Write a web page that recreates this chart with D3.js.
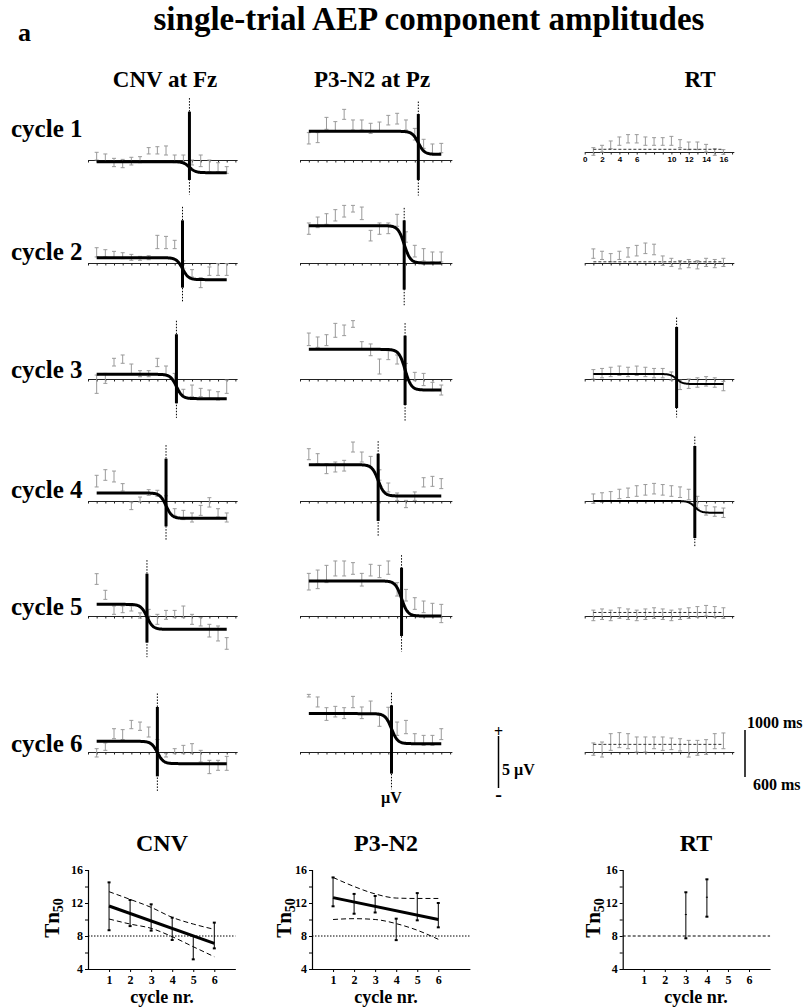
<!DOCTYPE html>
<html>
<head>
<meta charset="utf-8">
<script src="https://cdn.jsdelivr.net/npm/d3@7"></script>
<style>
  body { margin: 0; background: #fff; }
  text { font-family: "Liberation Serif", "Times New Roman", serif; font-weight: bold; fill: #000; }
</style>
</head>
<body>
<script>
// ---- data ----
const trials = d3.range(1, 17);          // single trials 1..16
const cycleNames = ["cycle 1", "cycle 2", "cycle 3", "cycle 4", "cycle 5", "cycle 6"];
const columnTitles = ["CNV at Fz", "P3-N2 at Pz", "RT"];
const rtTickLabels = [0, 2, 4, 6, 10, 12, 14, 16];

// CNV at Fz, µV (upper / lower end of each trial's error bar)
const cnvHi = [
  [0.74, 0.58, 0.16, 0.06, 0.26, 0.32, 1.19, 1.28, 1.35, 0.48, 0.48, 0, 0.48, 0, -0.26, -0.64],
  [1.47, 1.28, 1.12, 0.99, 0.83, 0.64, 0.7, 2.66, 2.56, 2.18, 0.2, -0.64, -1.41, -0.38, -0.06, -0.06],
  [0.38, 0.54, 1.99, 2.31, 1.44, 0.8, 0.8, 1.99, 1.25, 0.54, -0.99, -0.58, -0.9, -1.06, -1.22, -0.1],
  [2.47, 3.01, 2.88, 1.67, -0.1, 0.38, 1.09, 1.03, 0.5, -0.74, -0.9, -1.15, -0.42, 0.32, -0.74, -1.15],
  [4.07, 2.47, 0.96, 0.96, 0.96, 0.3, 0.64, 0.16, 0.54, 0.54, 0.96, 0.16, -0.16, -0.8, -0.96, -2.08],
  [0.32, 0.87, 2.24, 2.15, 3.04, 2.88, 2.4, 1.2, -0.16, 0.32, 0.64, 0.8, 0.16, -0.8, -0.8, -0.42]
];
const cnvLo = [
  [0, -0.16, -0.64, -0.74, -0.48, -0.26, 0.58, 0.58, 0.48, -0.26, -0.26, -0.48, -0.64, -1.12, -1.12, -1.28],
  [0.58, 0.58, 0.51, 0.42, 0.26, 0.26, 0.32, 1.38, 1.38, 1.38, -0.5, -1.35, -2.37, -1.19, -1.19, -1.19],
  [-1.38, -0.42, 1.25, 1.51, 0.48, 0.22, 0.22, 1.19, 0.38, -0.26, -1.7, -1.7, -1.7, -1.86, -2.02, -1.38],
  [1.35, 1.99, 1.83, 0.96, -0.83, -0.1, 0.54, 0.45, -0.3, -1.38, -1.79, -2.02, -1.38, -0.58, -1.54, -2.02],
  [3.04, 1.6, 0.16, 0.32, 0.48, -0.2, 0, -0.8, -0.32, -0.16, -0.16, -0.8, -0.96, -2.02, -2.4, -3.2],
  [-0.48, 0.16, 1.28, 1.19, 2.24, 2.08, 1.44, 0.2, -0.48, -0.16, -0.16, -0.16, -0.96, -2.08, -1.76, -1.76]
];
const cnvPre = [-0.16, 0.51, 0.45, 0.77, 1.12, 1.03];
const cnvPost = [-1.22, -1.6, -1.89, -1.67, -1.28, -1.12];
const cnvChange = [11.7, 10.9, 10.2, 9.0, 6.8, 8.0];
const cnvLineTop = [4.65, 4.1, 4.3, 4.07, 4.07, 4.33];
const cnvLineBottom = [-1.92, -2.37, -2.34, -2.44, -2.56, -2.34];

// P3-N2 at Pz, µV
const p3Hi = [
  [2.63, 2.63, 4.1, 3.69, 4.87, 3.85, 3.85, 3.53, 3.65, 4.29, 4.49, 3.85, 3.04, 1.99, 1.54, 1.6],
  [3.85, 4.42, 4.74, 5.13, 5.54, 5.54, 5.38, 3.14, 3.85, 3.85, 4.68, 3.0, 1.7, 1.38, 1.06, 1.06],
  [4.42, 4.04, 4.26, 5.35, 5.19, 5.61, 3.59, 3.37, 1.92, 2.72, 2.31, 1.5, 0.64, 0.54, -0.32, -0.58],
  [5.03, 4.55, 3.59, 3.75, 3.91, 5.67, 4.71, 4.29, 3.0, 1.73, 0.77, 0.06, 0.87, 2.24, 2.37, 2.15],
  [4.1, 4.42, 4.87, 5.29, 5.29, 5.13, 4.1, 4.97, 4.87, 5.29, 3.21, 2.56, 1.76, 1.44, 1.22, 1.12],
  [5.54, 5.29, 4.26, 4.39, 4.26, 5.35, 4.33, 4.9, 3.53, 4.3, 2.88, 3.04, 1.76, 1.6, 1.6, 2.24]
];
const p3Lo = [
  [1.54, 1.67, 2.95, 2.82, 3.91, 2.88, 2.88, 2.56, 2.82, 3.37, 3.46, 2.88, 1.92, 1.12, 0.64, 0.7],
  [2.76, 3.4, 3.72, 4.04, 4.42, 4.9, 4.17, 2.12, 2.76, 2.82, 3.53, 2.0, 0.58, 0.19, 0.1, 0.1],
  [3.21, 3.04, 3.21, 4.01, 4.17, 4.97, 2.88, 2.24, 0.48, 1.86, 1.44, 0.5, -0.16, -0.64, -1.12, -1.54],
  [3.97, 3.59, 2.63, 2.79, 2.88, 4.71, 3.75, 3.27, 2.0, 0.87, 0.06, -0.64, 0.06, 1.35, 1.41, 1.19],
  [2.5, 2.63, 3.21, 3.85, 3.85, 4.01, 2.88, 3.85, 3.69, 4.01, 1.92, 1.44, 0.64, 0.32, 0, -0.64],
  [5.29, 4.33, 3.04, 3.37, 3.21, 4.26, 3.21, 3.69, 2.47, 3.0, 1.6, 1.76, 0.8, 0.64, 0.64, 1.19]
];
const p3Pre = [2.76, 3.59, 2.85, 3.49, 3.37, 3.69];
const p3Post = [0.54, 0, -1.06, 0.48, 0, 0.8];
const p3Change = [13.4, 11.8, 11.9, 8.85, 11.5, 10.36];
const p3LineTop = [4.42, 4.1, 4.17, 4.55, 4.65, 4.49];
const p3LineBottom = [-1.92, -2.56, -2.5, -1.92, -1.92, -2.08];

// RT, ms relative to the panel baseline
const rtHi = [
  [37, 57, 94, 128, 148, 148, 128, 122, 122, 133, 105, 85, 85, 65, 28, 20],
  [120, 100, 80, 100, 130, 150, 170, 160, 60, 40, 20, 30, 20, 40, 30, 40],
  [80, 90, 100, 110, 100, 110, 100, 90, 90, 60, -10, 0, 10, 20, 10, -20],
  [60, 70, 80, 100, 110, 130, 140, 150, 140, 130, 120, 100, 40, -40, -50, -60],
  [50, 60, 50, 70, 60, 50, 60, 70, 60, 50, 60, 70, 80, 90, 80, 70],
  [77, 85, 156, 165, 156, 128, 128, 128, 128, 119, 113, 99, 99, 105, 156, 162]
];
const rtLo = [
  [-28, 0, 28, 57, 77, 77, 57, 57, 57, 57, 37, 20, 20, 0, -28, -20],
  [40, 30, 10, 30, 50, 60, 80, 70, -20, -30, -50, -40, -50, -30, -40, -30],
  [0, 10, 20, 30, 20, 30, 20, 10, 10, -10, -90, -80, -70, -60, -70, -100],
  [-20, -10, 0, 20, 30, 40, 50, 60, 50, 40, 30, 10, -60, -120, -130, -140],
  [-40, -30, -40, -20, -30, -40, -30, -20, -30, -40, -30, -20, -10, 0, -10, -20],
  [-28, -43, 14, 37, 28, 0, 0, 28, 14, 20, 9, -43, -28, -20, 28, 28]
];
const rtPre = [23, 10, 43, 0, 30, 65];
const rtPost = [23, 10, -43, -100, 30, 65];
const rtChange = [null, null, 10.6, 12.7, null, null];
const rtLineTop = [null, null, 443, 468, null, null];
const rtLineBottom = [null, null, -247, -315, null, null];

// Tn50 per cycle
const tnCycles = [1, 2, 3, 4, 5, 6];
const cnvTnHi = [14.5, 12.36, 11.84, 10.22, 8.0, 9.62];
const cnvTnLo = [8.7, 9.2, 8.65, 7.52, 5.17, 6.5];
const cnvFit = [11.64, 7.11];                 // at cycle 1 and cycle 6
const cnvCiUp = [13.37, 12.44, 11.47, 10.26, 9.45, 8.81];
const cnvCiLow = [10.06, 9.45, 8.93, 7.92, 6.7, 5.49];

const p3TnHi = [15.1, 13.1, 12.85, 10.1, 13.2, 12.0];
const p3TnLo = [11.6, 10.7, 10.85, 7.5, 9.9, 9.05];
const p3Fit = [12.65, 10.0];
const p3CiUp = [15.1, 14.0, 13.1, 12.6, 12.55, 12.55];
const p3CiLow = [10.0, 10.1, 10.0, 9.5, 8.7, 7.6];

const rtTnCycles = [3, 4];
const rtTnHi = [13.3, 14.87];
const rtTnLo = [7.72, 10.34];
const rtTnMid = [10.6, 12.7];

const tnRef = 8;   // chance level line

// ---- layout ----
const W = 805, H = 1007;
const rowAxisY = [160, 263, 379, 501, 616, 752];
const rtAxisY = [152, 263, 379, 501, 616, 752];
const rowLabelY = [137, 260, 378, 498, 615, 752];
const uvPx = 10.4;        // px per µV
const msPx = 0.1175;      // px per ms

const svg = d3.select("body").append("svg")
  .attr("width", W)
  .attr("height", H);

svg.append("text").attr("x", 18).attr("y", 41).style("font-size", "26px").text("a");
svg.append("text").attr("x", 429).attr("y", 30).attr("text-anchor", "middle")
  .style("font-size", "33px").text("single-trial AEP component amplitudes");

[165, 372, 700].forEach((cx, i) => {
  svg.append("text").attr("x", cx).attr("y", 87).attr("text-anchor", "middle")
    .style("font-size", "23px").text(columnTitles[i]);
});

cycleNames.forEach((name, i) => {
  svg.append("text").attr("x", 11).attr("y", rowLabelY[i]).style("font-size", "25px").text(name);
});

function sigmoid(pre, post, c) {
  return t => post + (pre - post) / (1 + Math.exp((t - c) / 0.35));
}

function trialPanel(p) {
  const x = d3.scaleLinear().domain([0, 17.2]).range([p.x0, p.x0 + 17.2 * p.step]);
  const y = d3.scaleLinear().domain([0, 1]).range([p.axisY, p.axisY - p.k]);
  const g = svg.append("g");

  const axis = d3.axisBottom(x).tickValues(d3.range(0, 18)).tickSize(2.5).tickSizeOuter(0)
    .tickFormat(p.labels ? (d => p.labels.includes(d) ? d : "") : "");
  const ax = g.append("g").attr("transform", `translate(0,${p.axisY})`).call(axis);
  ax.select(".domain").attr("stroke", "#222");
  ax.selectAll(".tick line").attr("stroke", "#222");
  ax.selectAll(".tick text").attr("dy", "0.55em")
    .style("font-family", "'Liberation Sans', Arial, sans-serif").style("font-size", "8px");

  const bars = trials.map((t, i) => ({ t, hi: p.hi[i], lo: p.lo[i] }));
  const eb = g.append("g").attr("stroke", "#9a9a9a").attr("stroke-width", 1);
  eb.selectAll(".v").data(bars).join("line")
    .attr("x1", d => x(d.t)).attr("x2", d => x(d.t))
    .attr("y1", d => y(d.hi)).attr("y2", d => y(d.lo));
  eb.selectAll(".ct").data(bars).join("line")
    .attr("x1", d => x(d.t) - 2).attr("x2", d => x(d.t) + 2)
    .attr("y1", d => y(d.hi)).attr("y2", d => y(d.hi));
  eb.selectAll(".cb").data(bars).join("line")
    .attr("x1", d => x(d.t) - 2).attr("x2", d => x(d.t) + 2)
    .attr("y1", d => y(d.lo)).attr("y2", d => y(d.lo));

  if (p.change == null) {
    g.append("path")
      .attr("d", d3.line().x(d => x(d)).y(() => y(p.pre))([1, 16]))
      .attr("stroke", "#333").attr("stroke-width", 1).attr("stroke-dasharray", "3,2").attr("fill", "none");
    return;
  }
  const f = sigmoid(p.pre, p.post, p.change);
  g.append("path")
    .attr("d", d3.line().x(d => x(d)).y(d => y(f(d)))(d3.range(1, 16.001, 0.05)))
    .attr("stroke", "#000").attr("stroke-width", p.curveWidth).attr("fill", "none");
  g.append("line")
    .attr("x1", x(p.change)).attr("x2", x(p.change))
    .attr("y1", y(p.dashTop)).attr("y2", y(p.dashBottom))
    .attr("stroke", "#000").attr("stroke-width", 1).attr("stroke-dasharray", "1.5,1.5");
  g.append("line")
    .attr("x1", x(p.change)).attr("x2", x(p.change))
    .attr("y1", y(p.top)).attr("y2", y(p.bottom))
    .attr("stroke", "#000").attr("stroke-width", 3);
}

for (let i = 0; i < 6; i++) {
  trialPanel({ x0: 88, step: 8.67, axisY: rowAxisY[i], k: uvPx,
    hi: cnvHi[i], lo: cnvLo[i], pre: cnvPre[i], post: cnvPost[i], change: cnvChange[i],
    top: cnvLineTop[i], bottom: cnvLineBottom[i], dashTop: cnvLineTop[i] + 1.3,
    dashBottom: cnvLineBottom[i] - 1.4, curveWidth: 3 });
  trialPanel({ x0: 300, step: 8.83, axisY: rowAxisY[i], k: uvPx,
    hi: p3Hi[i], lo: p3Lo[i], pre: p3Pre[i], post: p3Post[i], change: p3Change[i],
    top: p3LineTop[i], bottom: p3LineBottom[i], dashTop: p3LineTop[i] + 1.2,
    dashBottom: p3LineBottom[i] - 1.5, curveWidth: 3 });
  trialPanel({ x0: 584.7, step: 8.67, axisY: rtAxisY[i], k: msPx,
    hi: rtHi[i], lo: rtLo[i], pre: rtPre[i], post: rtPost[i], change: rtChange[i],
    top: rtLineTop[i], bottom: rtLineBottom[i],
    dashTop: rtLineTop[i] + 80, dashBottom: rtLineBottom[i] - 80, curveWidth: 2,
    labels: i === 0 ? rtTickLabels : null });
}

// "µV" under the P3-N2 cycle 6 change line
svg.append("text").attr("x", 300 + p3Change[5] * 8.83).attr("y", 803).attr("text-anchor", "middle")
  .style("font-size", "16px").text("µV");

// µV scale bar
const uvBar = d3.scaleLinear().domain([0, 5]).range([788, 788 - 5 * uvPx]);
svg.append("line").attr("x1", 498.5).attr("x2", 498.5).attr("y1", uvBar(0)).attr("y2", uvBar(5))
  .attr("stroke", "#000").attr("stroke-width", 1.5);
svg.append("text").attr("x", 498.5).attr("y", uvBar(5) + 1).attr("text-anchor", "middle")
  .style("font-size", "16px").text("+");
svg.append("text").attr("x", 498.5).attr("y", uvBar(0) + 13).attr("text-anchor", "middle")
  .style("font-size", "20px").text("-");
svg.append("text").attr("x", 502).attr("y", 775).style("font-size", "16px").text("5 µV");

// RT scale bar
const msBar = d3.scaleLinear().domain([600, 1000]).range([777, 777 - 400 * msPx]);
svg.append("line").attr("x1", 745).attr("x2", 745).attr("y1", msBar(600)).attr("y2", msBar(1000))
  .attr("stroke", "#000").attr("stroke-width", 1.5);
svg.append("text").attr("x", 747).attr("y", 728).style("font-size", "16px").text("1000 ms");
svg.append("text").attr("x", 753).attr("y", 790).style("font-size", "16px").text("600 ms");

// ---- Tn50 panels ----
function tnPanel(p) {
  const x = d3.scaleLinear().domain([0, p.xMax]).range([p.x0, p.x0 + p.xMax * 21.05]);
  const y = d3.scaleLinear().domain([4, 16]).range([969, 870]);
  const g = svg.append("g");

  const yAxis = d3.axisLeft(y).tickValues([4, 6, 8, 10, 12, 14, 16]).tickSizeOuter(0)
    .tickSize(3).tickPadding(2).tickFormat(d => d % 4 === 0 ? d : "");
  const ya = g.append("g").attr("transform", `translate(${x(0)},0)`).call(yAxis);
  const xAxis = d3.axisBottom(x).tickValues(tnCycles).tickFormat(d3.format("d"))
    .tickSize(3).tickSizeOuter(0).tickPadding(3);
  const xa = g.append("g").attr("transform", `translate(0,${y(4)})`).call(xAxis);
  [ya, xa].forEach(a => {
    a.select(".domain").attr("stroke", "#000").attr("stroke-width", 1.2);
    a.selectAll(".tick line").attr("stroke", "#000");
    a.selectAll(".tick text").style("font-family", "'Liberation Serif', serif")
      .style("font-weight", "bold").style("font-size", "12px");
  });

  g.append("line").attr("x1", x(0)).attr("x2", x(p.xMax)).attr("y1", y(tnRef)).attr("y2", y(tnRef))
    .attr("stroke", "#000").attr("stroke-width", 1).attr("stroke-dasharray", p.refDash);

  if (p.fit) {
    g.append("line").attr("x1", x(1)).attr("x2", x(6)).attr("y1", y(p.fit[0])).attr("y2", y(p.fit[1]))
      .attr("stroke", "#000").attr("stroke-width", 3);
    const ci = d3.line().curve(d3.curveMonotoneX).x((d, i) => x(tnCycles[i])).y(d => y(d));
    [p.ciUp, p.ciLow].forEach(c => g.append("path").attr("d", ci(c)).attr("fill", "none")
      .attr("stroke", "#000").attr("stroke-width", 1).attr("stroke-dasharray", "5,3"));
  }

  const bars = p.cycles.map((c, i) => ({ c, hi: p.hi[i], lo: p.lo[i] }));
  const eb = g.append("g").attr("stroke", "#000").attr("stroke-width", 1);
  eb.selectAll(".v").data(bars).join("line")
    .attr("x1", d => x(d.c)).attr("x2", d => x(d.c)).attr("y1", d => y(d.hi)).attr("y2", d => y(d.lo));
  eb.selectAll(".ct").data(bars).join("line").attr("stroke-width", 2)
    .attr("x1", d => x(d.c) - 1.5).attr("x2", d => x(d.c) + 1.5).attr("y1", d => y(d.hi)).attr("y2", d => y(d.hi));
  eb.selectAll(".cb").data(bars).join("line").attr("stroke-width", 2)
    .attr("x1", d => x(d.c) - 1.5).attr("x2", d => x(d.c) + 1.5).attr("y1", d => y(d.lo)).attr("y2", d => y(d.lo));
  if (p.mid) {
    eb.selectAll(".m").data(p.mid).join("line")
      .attr("x1", (d, i) => x(p.cycles[i]) - 1).attr("x2", (d, i) => x(p.cycles[i]) + 1)
      .attr("y1", d => y(d)).attr("y2", d => y(d));
  }

  svg.append("text").attr("x", p.titleX).attr("y", 851).attr("text-anchor", "middle")
    .style("font-size", "24px").text(p.title);
  svg.append("text").attr("x", p.titleX).attr("y", 1003).attr("text-anchor", "middle")
    .style("font-size", "18px").text("cycle nr.");
  const lab = svg.append("text").attr("transform", `translate(${p.labelX},918) rotate(-90)`)
    .attr("text-anchor", "middle").style("font-size", "21px");
  lab.append("tspan").text("Tn");
  lab.append("tspan").attr("dy", 4).style("font-size", "14px").text("50");
}

tnPanel({ title: "CNV", titleX: 162, labelX: 59, x0: 88, xMax: 7, refDash: "1.5,1.5",
  cycles: tnCycles, hi: cnvTnHi, lo: cnvTnLo, fit: cnvFit, ciUp: cnvCiUp, ciLow: cnvCiLow });
tnPanel({ title: "P3-N2", titleX: 386, labelX: 291, x0: 312, xMax: 7.5, refDash: "1.5,1.5",
  cycles: tnCycles, hi: p3TnHi, lo: p3TnLo, fit: p3Fit, ciUp: p3CiUp, ciLow: p3CiLow });
tnPanel({ title: "RT", titleX: 696, labelX: 600, x0: 622.7, xMax: 7, refDash: "3,2",
  cycles: rtTnCycles, hi: rtTnHi, lo: rtTnLo, mid: rtTnMid });
</script>
</body>
</html>
